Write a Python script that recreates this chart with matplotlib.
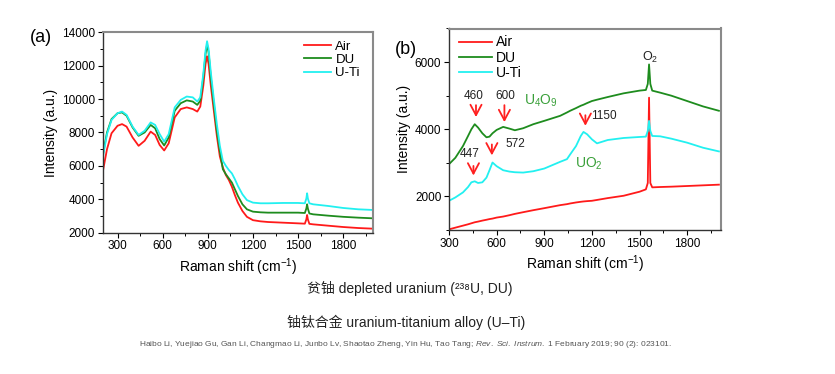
import matplotlib
matplotlib.use("Agg")
import matplotlib.pyplot as plt
from matplotlib.ticker import MultipleLocator

plt.rcParams['font.family'] = ['Liberation Sans', 'Noto Sans CJK SC', 'DejaVu Sans']
plt.rcParams['mathtext.fontset'] = 'custom'
plt.rcParams['mathtext.rm'] = 'Liberation Sans'
plt.rcParams['mathtext.it'] = 'Liberation Sans:italic'

# =============================
# Panel (a): spectra 200-2000 cm-1
# =============================
shift_a = [200, 230, 260, 300, 330, 360, 400, 440, 480, 520, 550, 580, 610, 640, 680,
           720, 760, 800, 830, 850, 870, 885, 895, 905, 920, 940, 960, 980, 1000, 1020,
           1040, 1060, 1080, 1100, 1130, 1160, 1200, 1250, 1300, 1400, 1500, 1545, 1555,
           1560, 1565, 1575, 1600, 1700, 1800, 1900, 2000]
air_a = [5560, 7000, 7950, 8400, 8500, 8350, 7700, 7200, 7500, 8050, 7850, 7250, 6920, 7350, 8900,
         9400, 9500, 9400, 9250, 9550, 10800, 12100, 12560, 12100, 10800, 9300, 7800, 6560, 5900, 5450,
         5150, 4750, 4250, 3800, 3300, 2950, 2750, 2680, 2640, 2600, 2560, 2540, 2800,
         3060, 2800, 2530, 2500, 2420, 2340, 2280, 2240]
du_a = [6560, 8000, 8800, 9150, 9200, 9000, 8300, 7800, 8000, 8450, 8250, 7600, 7220, 7700, 9300,
        9750, 9920, 9850, 9650, 9900, 11300, 12700, 13260, 12800, 11300, 9700, 8100, 6900, 5800, 5500,
        5250, 5000, 4600, 4200, 3700, 3400, 3260, 3220, 3200, 3200, 3200, 3180, 3450,
        3700, 3450, 3150, 3100, 3020, 2950, 2900, 2860]
uti_a = [6400, 7900, 8750, 9150, 9250, 9050, 8350, 7850, 8100, 8600, 8450, 7900, 7450, 7900, 9500,
         9950, 10150, 10100, 9850, 10100, 11500, 12900, 13460, 13000, 11600, 10000, 8500, 7200, 6300, 6000,
         5750, 5550, 5200, 4800, 4300, 3950, 3800, 3760, 3760, 3780, 3780, 3760, 4050,
         4360, 4050, 3760, 3700, 3600, 3480, 3400, 3360]

# =============================
# Panel (b): spectra 300-2000 cm-1
# =============================
shift_b = [300, 340, 388, 420, 441, 462, 483, 510, 536, 555, 574, 600, 641, 680, 715, 767,
           831, 900, 1000, 1043, 1063, 1100, 1130, 1147, 1170, 1200, 1232, 1300, 1400, 1500, 1540,
           1552, 1560, 1568, 1580, 1630, 1700, 1800, 1900, 2000]
air_b = [1020, 1070, 1130, 1170, 1200, 1230, 1250, 1280, 1305, 1325, 1340, 1370, 1400, 1440, 1480, 1530,
         1590, 1650, 1740, 1770, 1790, 1820, 1840, 1850, 1860, 1870, 1895, 1950, 2020, 2140, 2210,
         2400, 4940, 2400, 2270, 2280, 2290, 2310, 2330, 2350]
du_b = [2960, 3150, 3500, 3800, 4000, 4150, 4050, 3880, 3760, 3780, 3880, 3980, 4070, 4020, 3970, 4030,
        4150, 4250, 4400, 4500, 4550, 4630, 4700, 4730, 4780, 4840, 4880, 4960, 5070, 5150, 5170,
        5350, 5930, 5350, 5150, 5090, 5000, 4840, 4680, 4550]
uti_b = [1870, 1970, 2120, 2280, 2420, 2450, 2400, 2420, 2560, 2780, 3010, 2900, 2780, 2740, 2720, 2710,
         2750, 2830, 3030, 3110, 3250, 3500, 3800, 3920, 3850, 3700, 3580, 3680, 3740, 3770, 3780,
         3950, 4250, 3950, 3800, 3790, 3720, 3600, 3450, 3340]

labels = ["Air", "DU", "U-Ti"]
colors = ["#ff1a1a", "#1e8c1e", "#22f0f0"]

# peak markers in (b): (label, label x, label y, arrow x, arrow top, arrow bottom)
peaks_b = [
    ("460", 452, 4990, 470, 4800, 4280),
    ("600", 655, 4990, 649, 4800, 4130),
    ("1150", 1275, 4390, 1159, 4500, 4020),
    ("447", 433, 3260, 454, 2990, 2540),
    ("572", 717, 3560, 570, 3630, 3140),
]


def style_axes(ax, ymaj, ymin):
    ax.xaxis.set_major_locator(MultipleLocator(300))
    ax.xaxis.set_minor_locator(MultipleLocator(150))
    ax.yaxis.set_major_locator(MultipleLocator(ymaj))
    ax.yaxis.set_minor_locator(MultipleLocator(ymin))
    ax.tick_params(which="major", direction="out", length=3.5, width=0.8, labelsize=8.5, pad=2)
    ax.tick_params(which="minor", direction="out", length=2, width=0.7)
    for s in ("left", "bottom"):
        ax.spines[s].set_color("#333333")
        ax.spines[s].set_linewidth(1.0)
    for s in ("top", "right"):
        ax.spines[s].set_color("#8a8a8a")
        ax.spines[s].set_linewidth(1.5)
    ax.set_xlabel(r"Raman shift (cm$^{-1}$)", fontsize=10, labelpad=3)
    ax.set_ylabel("Intensity (a.u.)", fontsize=10, labelpad=3)


fig = plt.figure(figsize=(8.35, 3.74), dpi=100)

# ----- (a)
ax1 = fig.add_axes([102.5 / 835, 1 - 232.7 / 374, 270.8 / 835, 200.5 / 374])
for ys, lab, c in zip([air_a, du_a, uti_a], labels, colors):
    ax1.plot(shift_a, ys, color=c, lw=1.3, label=lab)
ax1.set_xlim(200, 2000)
ax1.set_ylim(2000, 14000)
style_axes(ax1, 2000, 1000)
ax1.legend(loc="upper right", frameon=False, fontsize=9.5, handlelength=2.1,
           handletextpad=0.3, labelspacing=0.08, borderaxespad=0.0,
           bbox_to_anchor=(0.97, 0.985))
fig.text(41 / 835, 1 - 38 / 374, "(a)", fontsize=13, ha="center", va="center")

# ----- (b)
ax2 = fig.add_axes([449 / 835, 1 - 230 / 374, 271.5 / 835, 201.5 / 374])
for ys, lab, c in zip([air_b, du_b, uti_b], labels, colors):
    ax2.plot(shift_b, ys, color=c, lw=1.3, label=lab)
ax2.set_xlim(300, 2010)
ax2.set_ylim(1000, 7000)
style_axes(ax2, 2000, 1000)
ax2.legend(loc="upper left", frameon=False, fontsize=10, handlelength=2.4,
           handletextpad=0.3, labelspacing=0.08, borderaxespad=0.1,
           bbox_to_anchor=(0.01, 1.0))
fig.text(406 / 835, 1 - 50 / 374, "(b)", fontsize=13, ha="center", va="center")

for lab, tx, ty, axx, ytop, ybot in peaks_b:
    ax2.text(tx, ty, lab, fontsize=8.5, ha="center", va="center", color="#222222")
    ax2.annotate("", xy=(axx, ybot), xytext=(axx, ytop),
                 arrowprops=dict(arrowstyle="->,head_length=0.75,head_width=0.4",
                                 color="#ff2020", lw=1.3))

ax2.text(774, 4840, r"U$_4$O$_9$", fontsize=10, color="#3aa03a", ha="left", va="center")
ax2.text(1180, 2960, r"UO$_2$", fontsize=10, color="#3aa03a", ha="center", va="center")
ax2.text(1565, 6150, r"O$_2$", fontsize=9, color="#222222", ha="center", va="center")

# ----- captions
fig.text(410 / 835, 1 - 288 / 374, "贫铀 depleted uranium (²³⁸U, DU)",
         fontsize=10, ha="center", va="center", color="#222222")
fig.text(406 / 835, 1 - 322 / 374, "铀钛合金 uranium-titanium alloy (U–Ti)",
         fontsize=10, ha="center", va="center", color="#222222")
fig.text(405 / 835, 1 - 345 / 374,
         r"Haibo Li, Yuejiao Gu, Gan Li, Changmao Li, Junbo Lv, Shaotao Zheng, Yin Hu, Tao Tang; "
         r"$\mathit{Rev.\ Sci.\ Instrum.}$ 1 February 2019; 90 (2): 023101.",
         fontsize=6.0, ha="center", va="center", color="#555555")

fig.savefig("out.png", dpi=100)
